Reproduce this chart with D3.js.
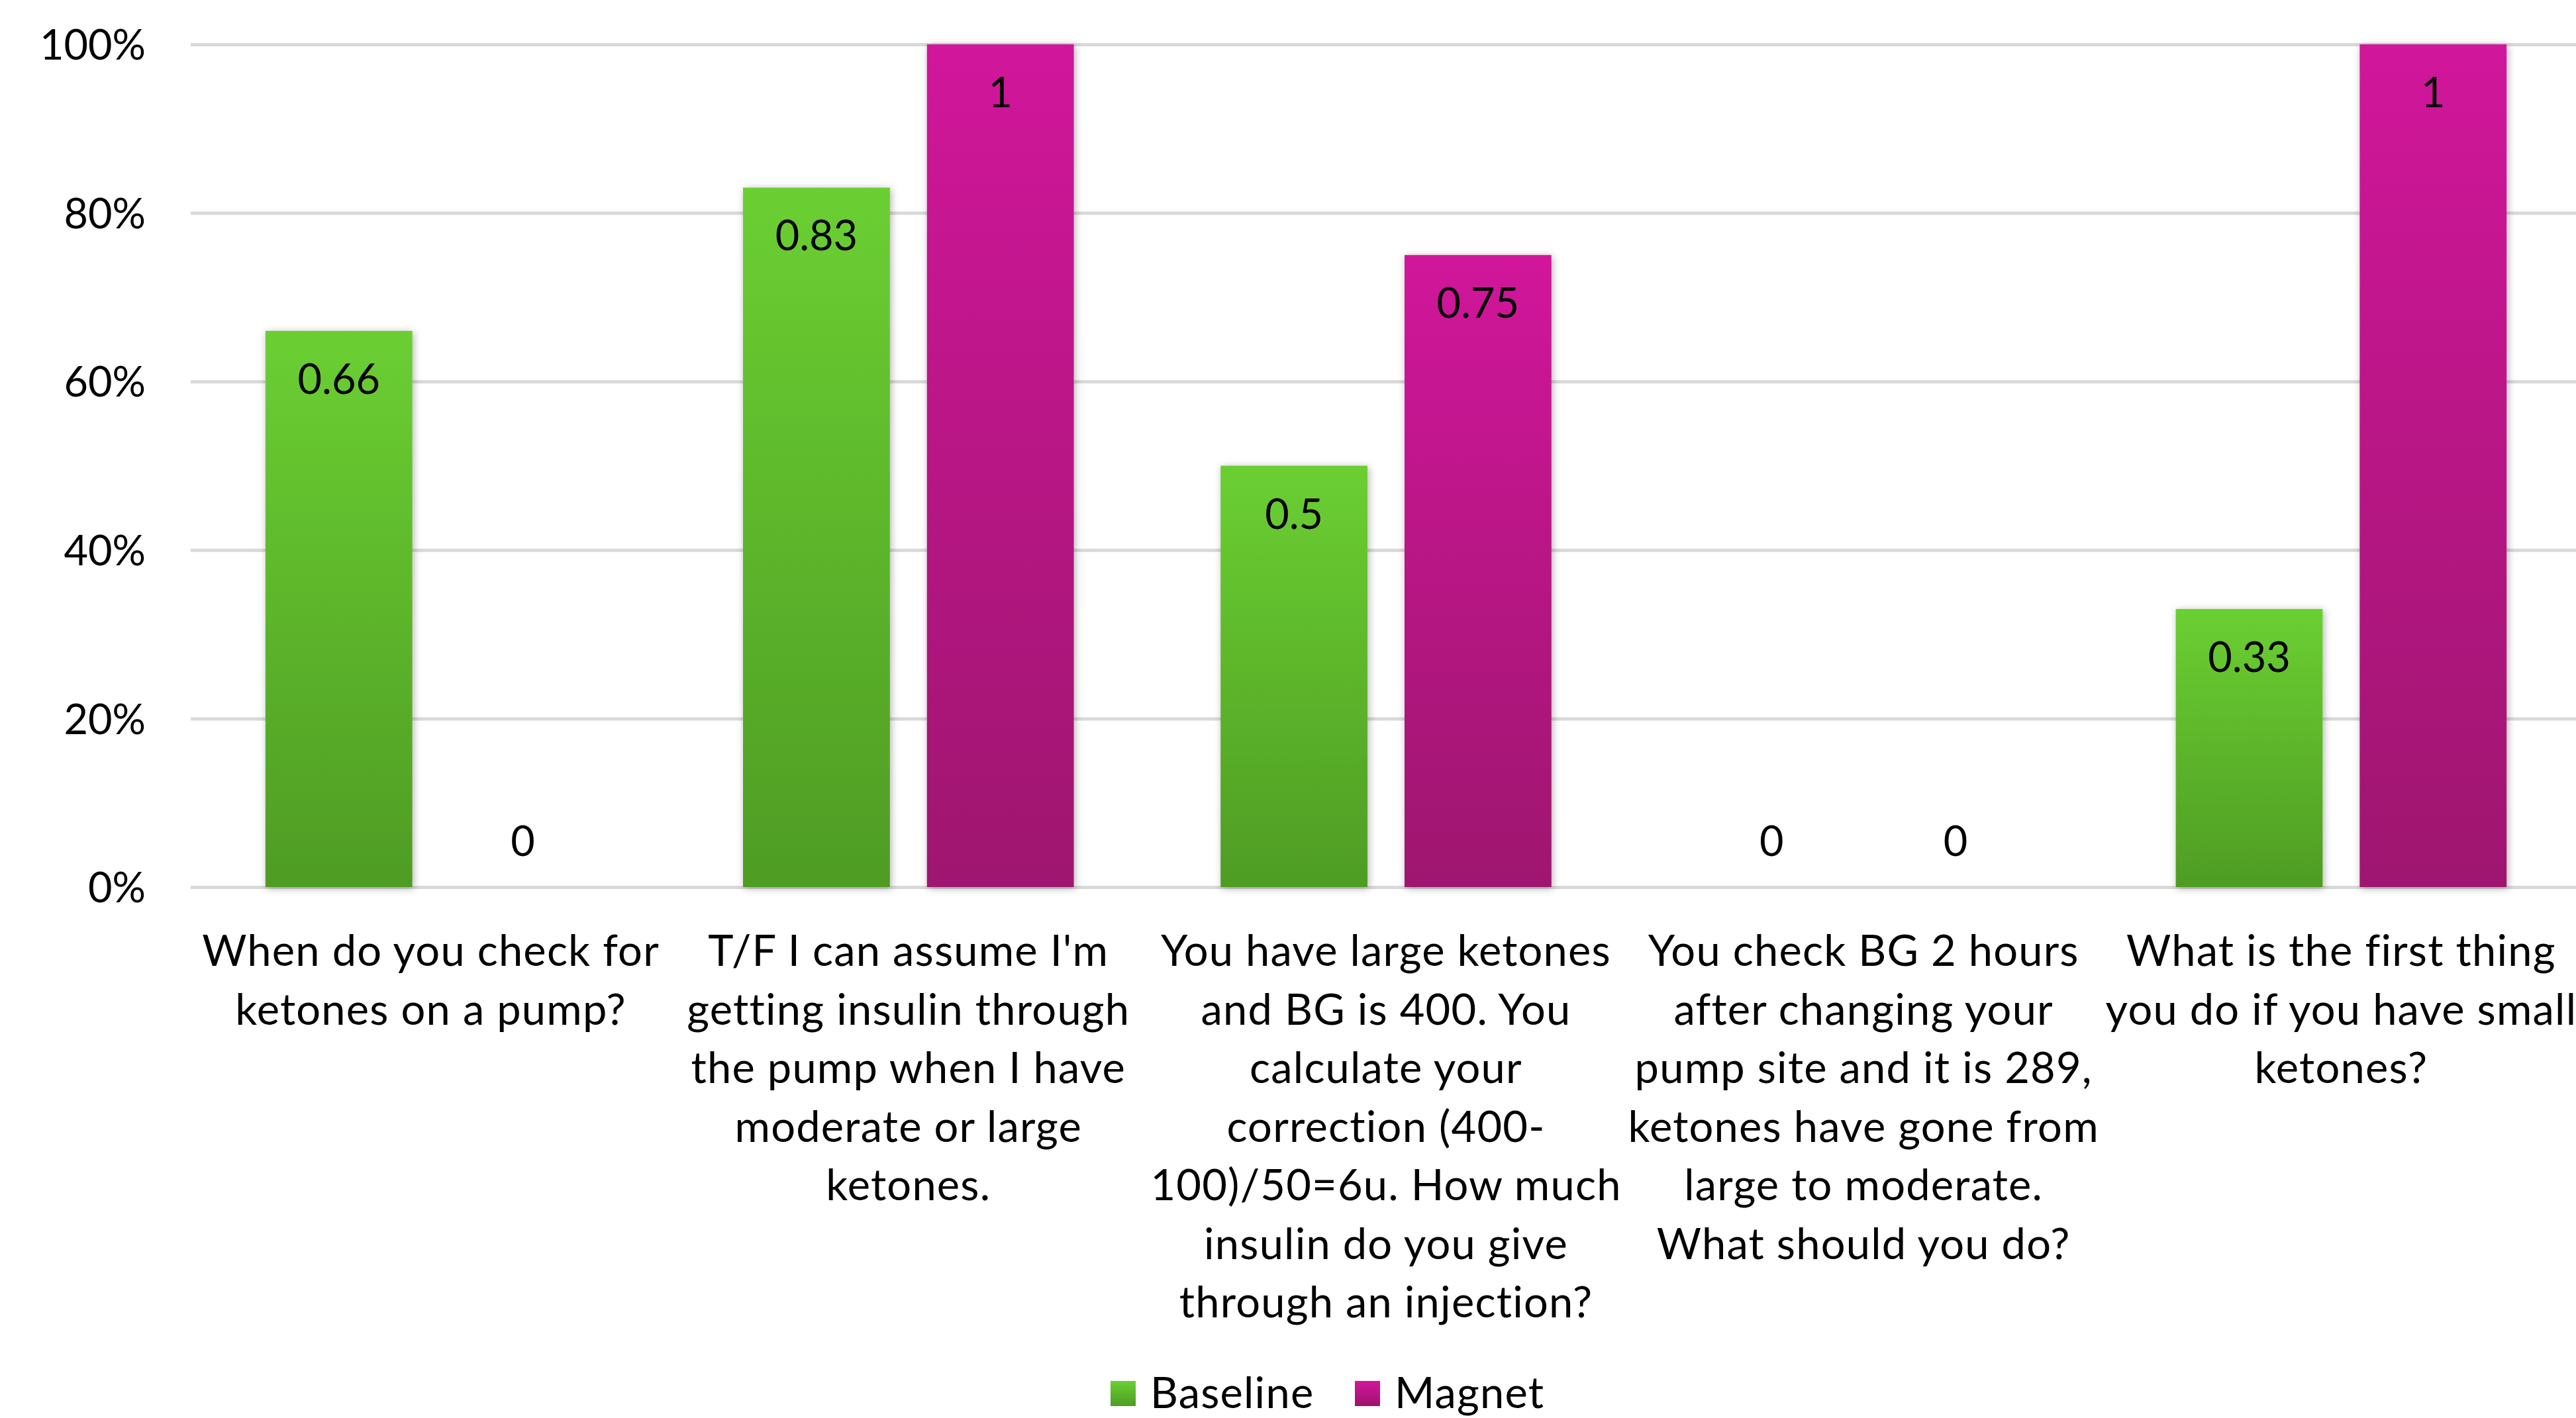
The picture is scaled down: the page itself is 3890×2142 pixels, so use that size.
<!DOCTYPE html>
<html>
<head>
<meta charset="utf-8">
<script src="https://cdn.jsdelivr.net/npm/d3@7"></script>
<style>
  html, body { margin: 0; padding: 0; background: #fff; overflow: hidden; }
  svg { display: block; }
  text { font-family: Lato, "Open Sans", sans-serif; fill: #000; font-variant-ligatures: none; }
</style>
</head>
<body>
<svg id="chart" width="3890" height="2142"></svg>
<script>
// ---- data ----
const categories = [
  "When do you check for ketones on a pump?",
  "T/F I can assume I'm getting insulin through the pump when I have moderate or large ketones.",
  "You have large ketones and BG is 400. You calculate your correction (400-100)/50=6u. How much insulin do you give through an injection?",
  "You check BG 2 hours after changing your pump site and it is 289, ketones have gone from large to moderate. What should you do?",
  "What is the first thing you do if you have small ketones?"
];
const categoryLines = [
  ["When do you check for", "ketones on a pump?"],
  ["T/F I can assume I'm", "getting insulin through", "the pump when I have", "moderate or large", "ketones."],
  ["You have large ketones", "and BG is 400. You", "calculate your", "correction (400-", "100)/50=6u. How much", "insulin do you give", "through an injection?"],
  ["You check BG 2 hours", "after changing your", "pump site and it is 289,", "ketones have gone from", "large to moderate.", "What should you do?"],
  ["What is the first thing", "you do if you have small", "ketones?"]
];
const seriesNames = ["Baseline", "Magnet"];
const baselineValues = [0.66, 0.83, 0.5, 0, 0.33];
const magnetValues = [0, 1, 0.75, 0, 1];
const yTicks = [0, 0.2, 0.4, 0.6, 0.8, 1];

// ---- layout ----
const svg = d3.select("#chart");
const W = 3890, H = 2142;
const plotLeft = 288, plotRight = 3896;
const yTop = 67, yBottom = 1340;
const FS = 63;
const FS_CAT = 65;

const colors = {
  Baseline: ["#6BCF32", "#4F9C24"],
  Magnet: ["#D1179B", "#9E126E"]
};

const defs = svg.append("defs");
seriesNames.forEach(s => {
  const g = defs.append("linearGradient").attr("id", "grad-" + s)
    .attr("x1", 0).attr("y1", 0).attr("x2", 0).attr("y2", 1);
  g.append("stop").attr("offset", "0%").attr("stop-color", colors[s][0]);
  g.append("stop").attr("offset", "100%").attr("stop-color", colors[s][1]);
});
const f = defs.append("filter").attr("id", "shadow")
  .attr("x", "-20%").attr("y", "-5%").attr("width", "140%").attr("height", "110%");
f.append("feDropShadow").attr("dx", 2).attr("dy", 2).attr("stdDeviation", 6)
  .attr("flood-color", "#000").attr("flood-opacity", 0.3);

const x0 = d3.scaleBand().domain(categories).range([plotLeft + 2, plotRight]).paddingInner(0).paddingOuter(0);
const x1 = d3.scaleBand().domain(seriesNames).range([0, x0.bandwidth()]).paddingInner(0.2014).paddingOuter(0.399);
const y = d3.scaleLinear().domain([0, 1]).range([yBottom, yTop]);

// gridlines + y labels
const yAxis = d3.axisLeft(y).tickValues(yTicks).tickFormat(d3.format(".0%"))
  .tickSizeInner(-(W - plotLeft + 20)).tickSizeOuter(0).tickPadding(68);
const ga = svg.append("g").attr("transform", `translate(${plotLeft},0)`).call(yAxis);
ga.select(".domain").remove();
ga.selectAll(".tick line").attr("stroke", "#D9D9D9").attr("stroke-width", 5);
ga.selectAll(".tick text").attr("font-size", FS).attr("font-family", "Lato, sans-serif").attr("fill", "#000").attr("dy", "0.36em");

// bars
const data = categories.map((c, i) => ({
  cat: c, vals: [{ s: "Baseline", v: baselineValues[i] }, { s: "Magnet", v: magnetValues[i] }]
}));
const groups = svg.append("g").selectAll("g").data(data).join("g")
  .attr("transform", d => `translate(${x0(d.cat)},0)`);
groups.selectAll("rect").data(d => d.vals.filter(e => e.v > 0)).join("rect")
  .attr("x", d => x1(d.s)).attr("width", x1.bandwidth())
  .attr("y", d => y(d.v)).attr("height", d => y(0) - y(d.v))
  .attr("fill", d => `url(#grad-${d.s})`).attr("filter", "url(#shadow)");

// data labels
groups.selectAll("text.lbl").data(d => d.vals).join("text").attr("class", "lbl")
  .attr("x", d => x1(d.s) + x1.bandwidth() / 2)
  .attr("y", d => d.v > 0 ? y(d.v) + 95 : y(0) - 47)
  .attr("text-anchor", "middle").attr("font-size", FS)
  .text(d => String(d.v));

// category labels
const catG = svg.append("g");
categories.forEach((c, i) => {
  const t = catG.append("text").attr("text-anchor", "middle").attr("font-size", FS_CAT)
    .attr("letter-spacing", 1.2)
    .attr("x", x0(c) + x0.bandwidth() / 2).attr("y", 1459);
  categoryLines[i].forEach((ln, j) => {
    t.append("tspan").attr("x", x0(c) + x0.bandwidth() / 2).attr("y", 1459 + j * 88.5).text(ln);
  });
});

// legend
const legendPos = [{ s: "Baseline", x: 1677 }, { s: "Magnet", x: 2046 }];
const lg = svg.append("g");
legendPos.forEach(p => {
  lg.append("rect").attr("x", p.x).attr("y", 2086).attr("width", 38).attr("height", 38)
    .attr("fill", `url(#grad-${p.s})`);
  lg.append("text").attr("x", p.x + 60).attr("y", 2127).attr("font-size", FS_CAT)
    .attr("letter-spacing", 1.2).text(p.s);
});
</script>
</body>
</html>
